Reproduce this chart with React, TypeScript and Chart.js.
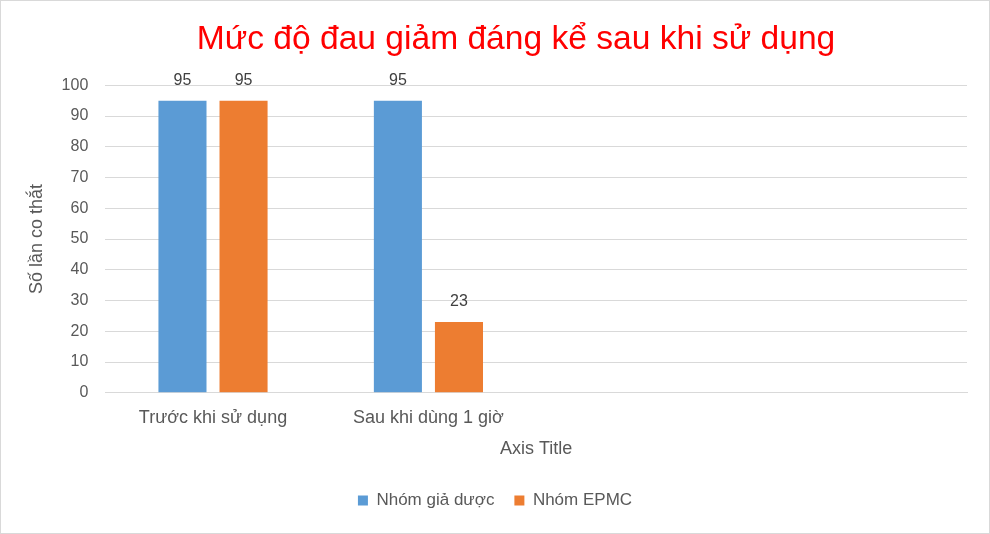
import { useEffect, useRef } from 'react'
import { Chart, ChartConfiguration, Plugin, registerables } from 'chart.js'

Chart.register(...registerables)

const categories = ['Trước khi sử dụng', 'Sau khi dùng 1 giờ', '', '']
const placeboValues = [95, 95, null, null]
const epmcValues = [95, 23, null, null]
const yTicks = [0, 10, 20, 30, 40, 50, 60, 70, 80, 90, 100]

const textColor = '#595959'
const fontFamily = "'Liberation Sans', Arial, sans-serif"

// draws the value above each bar, like Excel data labels
const barValueLabels: Plugin = {
  id: 'barValueLabels',
  afterDatasetsDraw(chart) {
    const ctx = chart.ctx
    ctx.save()
    ctx.fillStyle = '#404040'
    ctx.font = `16px ${fontFamily}`
    ctx.textAlign = 'center'
    ctx.textBaseline = 'middle'
    chart.data.datasets.forEach((ds, i) => {
      const meta = chart.getDatasetMeta(i)
      meta.data.forEach((bar, j) => {
        const v = ds.data[j]
        if (v == null) return
        ctx.fillText(String(v), bar.x, bar.y - 20)
      })
    })
    ctx.restore()
  },
}

// the Excel title sits a little right of the canvas centre
const nudgeTitle: Plugin = {
  id: 'nudgeTitle',
  afterLayout(chart) {
    const t = (chart as any).titleBlock
    if (t) {
      t.left += 21
      t.right += 21
    }
  },
}

export default function App() {
  const canvasRef = useRef<HTMLCanvasElement>(null)

  useEffect(() => {
    document.body.style.margin = '0'
    if (!canvasRef.current) return

    const config: ChartConfiguration<'bar'> = {
      type: 'bar',
      data: {
        labels: categories,
        datasets: [
          {
            label: 'Nhóm giả dược',
            data: placeboValues,
            backgroundColor: '#5B9BD5',
            categoryPercentage: 0.567,
            barPercentage: 0.787,
          },
          {
            label: 'Nhóm EPMC',
            data: epmcValues,
            backgroundColor: '#ED7D31',
            categoryPercentage: 0.567,
            barPercentage: 0.787,
          },
        ],
      },
      options: {
        animation: false,
        responsive: true,
        maintainAspectRatio: false,
        layout: { padding: { left: 22, right: 22, top: 4, bottom: 14 } },
        plugins: {
          title: {
            display: true,
            text: 'Mức độ đau giảm đáng kể sau khi sử dụng',
            color: '#FF0000',
            font: { family: fontFamily, size: 33.6, weight: 'normal' },
            padding: { top: 15, bottom: 25 },
          },
          legend: {
            position: 'bottom',
            labels: {
              boxWidth: 10,
              boxHeight: 10,
              color: textColor,
              font: { family: fontFamily, size: 17 },
              padding: 20,
            },
          },
          tooltip: { enabled: false },
        },
        scales: {
          x: {
            grid: { display: false },
            border: { color: '#D9D9D9' },
            ticks: {
              color: textColor,
              font: { family: fontFamily, size: 18 },
              padding: 6,
            },
            title: {
              display: true,
              text: 'Axis Title',
              color: textColor,
              font: { family: fontFamily, size: 18 },
              padding: { top: 4, bottom: 12 },
            },
          },
          y: {
            min: 0,
            max: 100,
            afterBuildTicks(axis) {
              axis.ticks = yTicks.map(v => ({ value: v }))
            },
            afterFit(axis) {
              axis.width -= 16
            },
            grid: { color: '#D9D9D9', drawTicks: false },
            border: { display: false },
            ticks: {
              color: textColor,
              font: { family: fontFamily, size: 16 },
              padding: 17,
            },
            title: {
              display: true,
              text: 'Số lần co thắt',
              color: textColor,
              font: { family: fontFamily, size: 18 },
              padding: { top: 3, bottom: 13 },
            },
          },
        },
      },
      plugins: [barValueLabels, nudgeTitle],
    }

    const chart = new Chart(canvasRef.current, config)
    return () => chart.destroy()
  }, [])

  return (
    <div
      style={{
        position: 'absolute',
        left: 0,
        top: 0,
        width: 990,
        height: 534,
        boxSizing: 'border-box',
        border: '1px solid #D9D9D9',
        background: '#fff',
      }}
    >
      <canvas ref={canvasRef}></canvas>
    </div>
  )
}
